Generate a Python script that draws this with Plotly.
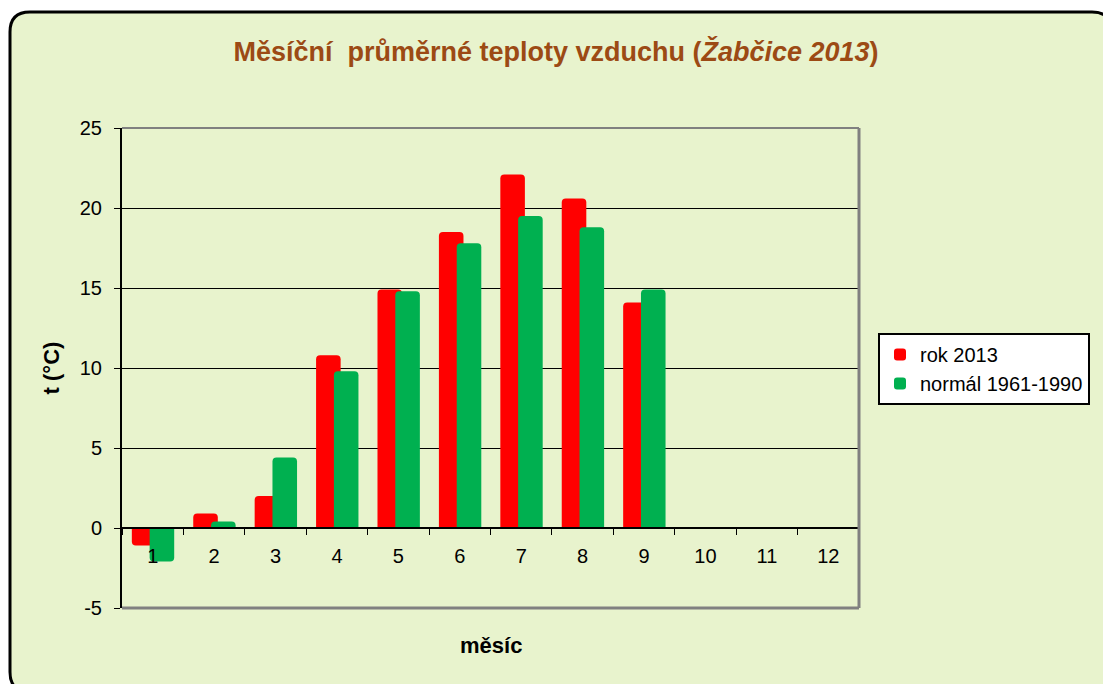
import plotly.graph_objects as go

months = ["1", "2", "3", "4", "5", "6", "7", "8", "9", "10", "11", "12"]
rok_2013 = [-1.1, 0.9, 2.0, 10.8, 14.9, 18.5, 22.1, 20.6, 14.1, None, None, None]
normal_1961_1990 = [-2.1, 0.4, 4.4, 9.8, 14.8, 17.8, 19.5, 18.8, 14.9, None, None, None]
series_names = ["rok 2013", "normál 1961-1990"]
y_ticks = [-5, 0, 5, 10, 15, 20, 25]

W, H = 1103, 684
L, R, T, B = 122, 859, 128, 608
FONT = "Liberation Sans, Arial, sans-serif"


def px(x):
    return (x - L) / (R - L)


def py(y):
    return (B - y) / (B - T)


fig = go.Figure()
fig.add_trace(go.Bar(x=months, y=rok_2013, name=series_names[0],
                     marker=dict(color="#ff0000", line=dict(width=0)),
                     width=0.40, offset=-0.34))
fig.add_trace(go.Bar(x=months, y=normal_1961_1990, name=series_names[1],
                     marker=dict(color="#00b050", line=dict(width=0)),
                     width=0.40, offset=-0.05))

# outer rounded frame
x0, x1, y0, y1, r = 10, 1112, 12, 692, 20
path = (f"M {px(x0)} {py(y0 + r)} "
        f"Q {px(x0)} {py(y0)} {px(x0 + r)} {py(y0)} "
        f"L {px(x1 - r)} {py(y0)} "
        f"Q {px(x1)} {py(y0)} {px(x1)} {py(y0 + r)} "
        f"L {px(x1)} {py(y1 - r)} "
        f"Q {px(x1)} {py(y1)} {px(x1 - r)} {py(y1)} "
        f"L {px(x0 + r)} {py(y1)} "
        f"Q {px(x0)} {py(y1)} {px(x0)} {py(y1 - r)} Z")

shapes = [
    dict(type="path", xref="paper", yref="paper", path=path,
         fillcolor="#e8f3cd", line=dict(color="black", width=3), layer="below"),
    dict(type="line", xref="paper", yref="paper", x0=0, x1=1, y0=1, y1=1,
         line=dict(color="#808080", width=2), layer="above"),
    dict(type="line", xref="paper", yref="paper", x0=1, x1=1, y0=0, y1=1,
         line=dict(color="#808080", width=3), layer="above"),
    dict(type="line", xref="paper", yref="paper", x0=0, x1=1, y0=0, y1=0,
         line=dict(color="#808080", width=3), layer="above"),
]

fig.update_layout(
    width=W, height=H,
    margin=dict(l=L, r=W - R, t=T, b=H - B, autoexpand=False),
    paper_bgcolor="white",
    plot_bgcolor="#f8f88c",
    barmode="overlay",
    barcornerradius=4,
    font=dict(family=FONT, size=20, color="black"),
    title=dict(
        text="Měsíční&nbsp;&nbsp;průměrné teploty vzduchu (<i>Žabčice 2013</i>)",
        font=dict(family=FONT, size=27, color="#9c4a14", weight="bold"),
        x=556 / W, xanchor="center", xref="container",
        y=1 - 52 / H, yanchor="middle", yref="container"),
    xaxis=dict(
        type="category", categoryorder="array", categoryarray=months,
        anchor="free", position=5 / 30,
        showline=True, linecolor="black", linewidth=2,
        ticks="outside", tickson="boundaries", ticklen=6, tickcolor="black", tickwidth=1,
        ticklabelstandoff=10,
        showgrid=False, tickfont=dict(size=20),
        range=[-0.5, 11.5],
    ),
    yaxis=dict(
        range=[-5, 25], tickvals=y_ticks, ticktext=[str(v) for v in y_ticks],
        showline=True, linecolor="black", linewidth=2,
        ticks="outside", ticklen=6, tickcolor="black",
        ticklabelstandoff=8,
        showgrid=True, gridcolor="black", gridwidth=1,
        zeroline=True, zerolinecolor="black", zerolinewidth=2,
        tickfont=dict(size=20),
        title=dict(text="t (°C)", font=dict(size=22, weight="bold"), standoff=14),
    ),
    legend=dict(
        x=px(878), y=py(333), xanchor="left", yanchor="top",
        bgcolor="white", bordercolor="black", borderwidth=2,
        font=dict(size=20), itemwidth=30, tracegroupgap=6,
    ),
    annotations=[dict(text="měsíc", xref="paper", yref="paper",
                      x=0.5, y=py(645), xanchor="center", yanchor="middle",
                      showarrow=False, font=dict(size=22, weight="bold"))],
    showlegend=True,
    shapes=shapes,
)

fig.write_html("out.html", config={"displayModeBar": False},
               post_script="document.body.style.margin='0px';")
